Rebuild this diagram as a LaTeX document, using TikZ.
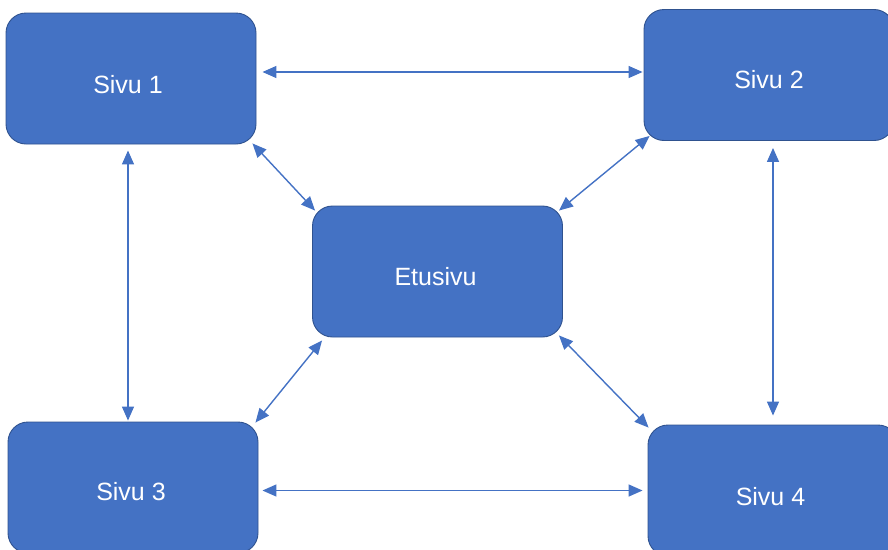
\documentclass[tikz,border=0pt]{standalone}
\usepackage{fontspec}
\setmainfont{Liberation Sans}
\usetikzlibrary{arrows.meta}
\definecolor{boxblue}{HTML}{4472C4}
\definecolor{boxedge}{HTML}{2F528F}
\tikzset{
  page/.style={draw=boxedge, fill=boxblue, line width=0.9pt, rounded corners=20pt,
    minimum width=250pt, minimum height=131pt, inner sep=0pt},
  txt/.style={text=white, font=\fontsize{25}{30}\selectfont, inner sep=0pt},
  link/.style={draw=boxblue, line width=1.4pt,
    {Triangle[length=14pt,width=12pt]}-{Triangle[length=14pt,width=12pt]}}
}
\begin{document}
\begin{tikzpicture}[x=1pt,y=-1pt]
\useasboundingbox (0,0) rectangle (888,549);
\node[page] (s1) at (131,78.5) {};
\node[page] (s2) at (769,75) {};
\node[page] (e) at (437.5,271.5) {};
\node[page] (s3) at (133,487.5) {};
\node[page] (s4) at (773,490.5) {};
\node[txt] (t1) at (128,84.5) {Sivu 1};
\node[txt] (t2) at (769,80) {Sivu 2};
\node[txt] (te) at (435.5,277) {Etusivu};
\node[txt] (t3) at (131,491.5) {Sivu 3};
\node[txt] (t4) at (770.5,497) {Sivu 4};
\draw[link] ([shift={(6,-6.5)}]s1.east) -- ([shift={(-1,-3)}]s2.west);
\draw[link] ([shift={(-3,6)}]s1.south) -- ([shift={(-5,-1)}]s3.north);
\draw[link] ([shift={(4,7)}]s2.south) -- ([shift={(0,-9)}]s4.north);
\draw[link] ([shift={(4,3)}]s3.east) -- ([shift={(-5,0)}]s4.west);
\draw[link] ([shift={(-4,-1)}]s1.south east) -- ([shift={(3,5)}]e.north west);
\draw[link] ([shift={(6,-5)}]s2.south west) -- ([shift={(-4,5)}]e.north east);
\draw[link] ([shift={(10,3)}]e.south west) -- ([shift={(-3,1)}]s3.north east);
\draw[link] ([shift={(-4,-2)}]e.south east) -- ([shift={(1,3)}]s4.north west);
\end{tikzpicture}
\end{document}
